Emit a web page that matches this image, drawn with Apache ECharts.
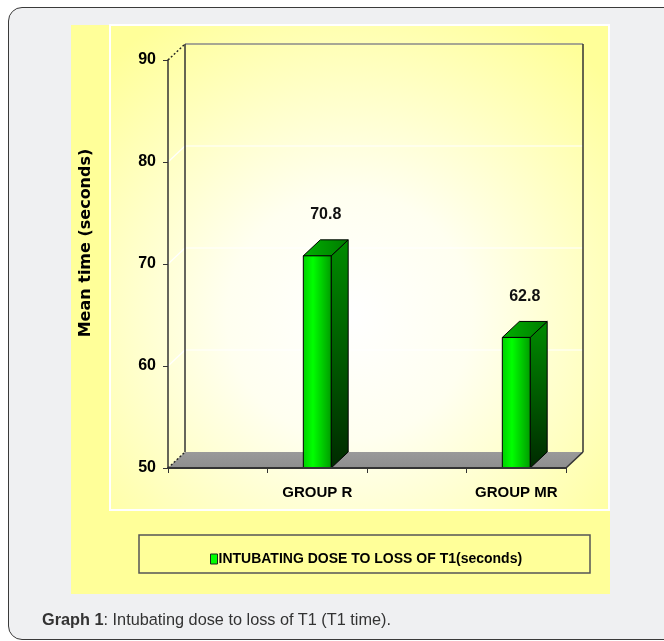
<!DOCTYPE html>
<html><head><meta charset="utf-8">
<script src="https://cdn.jsdelivr.net/npm/echarts@6/dist/echarts.min.js"></script>
<style>
html,body{margin:0;padding:0;background:#fff;width:664px;height:641px;overflow:hidden;}
#card{position:absolute;left:8px;top:7px;width:720px;height:633px;border:1.5px solid #3a3a3a;border-radius:14px;background:#eff0f2;box-sizing:border-box;}
#chart{position:absolute;left:0;top:0;width:664px;height:641px;}
#caption{position:absolute;left:42px;top:610px;font:16.3px 'Liberation Sans',Arial,sans-serif;color:#333;}
</style></head><body>
<div id="card"></div>
<div id="chart"></div>
<div id="caption"><b>Graph 1</b>: Intubating dose to loss of T1 (T1 time).</div>
<script>
// ---- data ----
const categories = ['', 'GROUP R', '', 'GROUP MR'];
const seriesName = 'INTUBATING DOSE TO LOSS OF T1(seconds)';
const barValues = [null, 70.8, null, 62.8];
const yMin = 50, yMax = 90, yStep = 10;
const yName = 'Mean time (seconds)';

// ---- style ----
const FONT = "'Liberation Sans',Arial,sans-serif";
const DX = 17, DY = -16;

const barData = barValues.map((v, i) => v == null ? null : [i, v]).filter(Boolean);

const chart = echarts.init(document.getElementById('chart'), null, {renderer: 'canvas'});

function renderFrame(params, api) {
  const cs = params.coordSys;
  const L = cs.x, R = cs.x + cs.width, T = cs.y, B = cs.y + cs.height;
  const ch = [];
  ch.push({type: 'polygon', shape: {points: [[L, B], [R, B], [R + DX, B + DY], [L + DX, B + DY]]},
    style: {fill: new echarts.graphic.LinearGradient(0, 0, 0, 1, [{offset: 0, color: '#9a9a9a'}, {offset: 1, color: '#8e8e8e'}]), stroke: null}});
  for (let v = yMin + yStep; v < yMax; v += yStep) {
    const y = api.coord([0, v])[1];
    ch.push({type: 'line', shape: {x1: L + DX, y1: y + DY, x2: R + DX, y2: y + DY}, style: {stroke: '#ffffff', lineWidth: 1.2}});
    ch.push({type: 'line', shape: {x1: L, y1: y, x2: L + DX, y2: y + DY}, style: {stroke: '#ffffff', lineWidth: 1.2}});
  }
  ch.push({type: 'line', shape: {x1: L + DX, y1: T + DY, x2: R + DX, y2: T + DY}, style: {stroke: '#8a8a8a', lineWidth: 1.5}});
  ch.push({type: 'line', shape: {x1: L + DX, y1: T + DY, x2: L + DX, y2: B + DY}, style: {stroke: '#333', lineWidth: 1.5}});
  ch.push({type: 'line', shape: {x1: R + DX, y1: T + DY, x2: R + DX, y2: B + DY}, style: {stroke: '#333', lineWidth: 1.5}});
  ch.push({type: 'line', shape: {x1: L, y1: T, x2: L + DX, y2: T + DY}, style: {stroke: '#222', lineWidth: 1.4, lineDash: [2, 2]}});
  ch.push({type: 'line', shape: {x1: L, y1: B, x2: L + DX, y2: B + DY}, style: {stroke: '#222', lineWidth: 1.4, lineDash: [2, 2]}});
  ch.push({type: 'line', shape: {x1: R, y1: B, x2: R + DX, y2: B + DY}, style: {stroke: '#333', lineWidth: 1.5}});
  return {type: 'group', children: ch};
}

function renderBar(params, api) {
  const xi = api.value(0), v = api.value(1);
  const base = api.coord([xi, yMin]);
  const top = api.coord([xi, v]);
  const w = api.size([1, 0])[0] * 0.28;
  const x0 = base[0] - w / 2, x1 = base[0] + w / 2;
  const yb = base[1], yt = top[1];
  const front = new echarts.graphic.LinearGradient(0, 0, 1, 0, [
    {offset: 0, color: '#00cf00'}, {offset: 0.35, color: '#00ff00'}, {offset: 1, color: '#009a00'}]);
  const side = new echarts.graphic.LinearGradient(0, 0, 0, 1, [
    {offset: 0, color: '#008c00'}, {offset: 1, color: '#002a00'}]);
  const topG = new echarts.graphic.LinearGradient(0, 0, 1, 0, [
    {offset: 0, color: '#00b000'}, {offset: 1, color: '#007a00'}]);
  return {type: 'group', children: [
    {type: 'polygon', shape: {points: [[x1, yb], [x1 + DX, yb + DY], [x1 + DX, yt + DY], [x1, yt]]}, style: {fill: side, stroke: '#000', lineWidth: 1}},
    {type: 'polygon', shape: {points: [[x0, yt], [x1, yt], [x1 + DX, yt + DY], [x0 + DX, yt + DY]]}, style: {fill: topG, stroke: '#000', lineWidth: 1}},
    {type: 'rect', shape: {x: x0, y: yt, width: w, height: yb - yt}, style: {fill: front, stroke: '#000', lineWidth: 1}},
    {type: 'text', x: base[0] + DX / 2, y: yt + DY - 25, style: {text: String(v), fill: '#111', font: 'bold 16px ' + FONT, align: 'center', verticalAlign: 'middle'}}
  ]};
}

const option = {
  animation: false,
  backgroundColor: 'transparent',
  graphic: [
    {type: 'rect', z: -10, shape: {x: 71, y: 25, width: 539, height: 569}, style: {fill: '#ffff99'}},
    {type: 'rect', z: -9, shape: {x: 110, y: 25, width: 499, height: 485},
      style: {fill: new echarts.graphic.RadialGradient(0.48, 0.6, 0.72, [{offset: 0, color: '#ffffff'}, {offset: 0.35, color: '#fffff0'}, {offset: 1, color: '#ffff99'}]), stroke: '#ffffff', lineWidth: 2}},
    {type: 'rect', z: -8, shape: {x: 139, y: 535, width: 451, height: 38}, style: {fill: 'transparent', stroke: '#555', lineWidth: 1.5}}
  ],
  legend: {
    left: 205, top: 547, itemWidth: 7, itemHeight: 10, itemGap: 5,
    data: [{name: seriesName, icon: 'rect', itemStyle: {color: '#00ff00', borderColor: '#1a2a1a', borderWidth: 1}}],
    textStyle: {fontFamily: FONT, fontWeight: 'bold', fontSize: 14, color: '#000', padding: [0, 0, 0, -4]}
  },
  grid: {left: 168, top: 60, width: 398, height: 408},
  xAxis: {
    type: 'category', data: categories, z: 10,
    axisLine: {show: true, lineStyle: {color: '#333', width: 2}},
    axisTick: {show: true, length: 5, interval: 0, alignWithLabel: false, lineStyle: {color: '#333', width: 1}},
    axisLabel: {interval: 0, margin: 17, fontFamily: FONT, fontWeight: 'bold', fontSize: 15, color: '#000'},
    splitLine: {show: false}
  },
  yAxis: {
    type: 'value', min: yMin, max: yMax, interval: yStep, z: 10,
    name: yName, nameLocation: 'middle', nameRotate: 90, nameGap: 74,
    nameTextStyle: {fontFamily: "'DejaVu Sans',sans-serif", fontWeight: 'bold', fontSize: 16, color: '#000', padding: [0, 0, 0, 42]},
    axisLine: {show: true, lineStyle: {color: '#333', width: 1.5}},
    axisTick: {show: true, length: 5, lineStyle: {color: '#333'}},
    axisLabel: {margin: 12, fontFamily: FONT, fontWeight: 'bold', fontSize: 16, color: '#000'},
    splitLine: {show: false}
  },
  series: [
    {type: 'custom', name: 'frame', z: 1, silent: true, renderItem: renderFrame, data: [[0, yMin]]},
    {type: 'custom', name: seriesName, z: 2, renderItem: renderBar, data: barData,
      itemStyle: {color: '#00ff00'}}
  ]
};
chart.setOption(option);
</script>
</body></html>
